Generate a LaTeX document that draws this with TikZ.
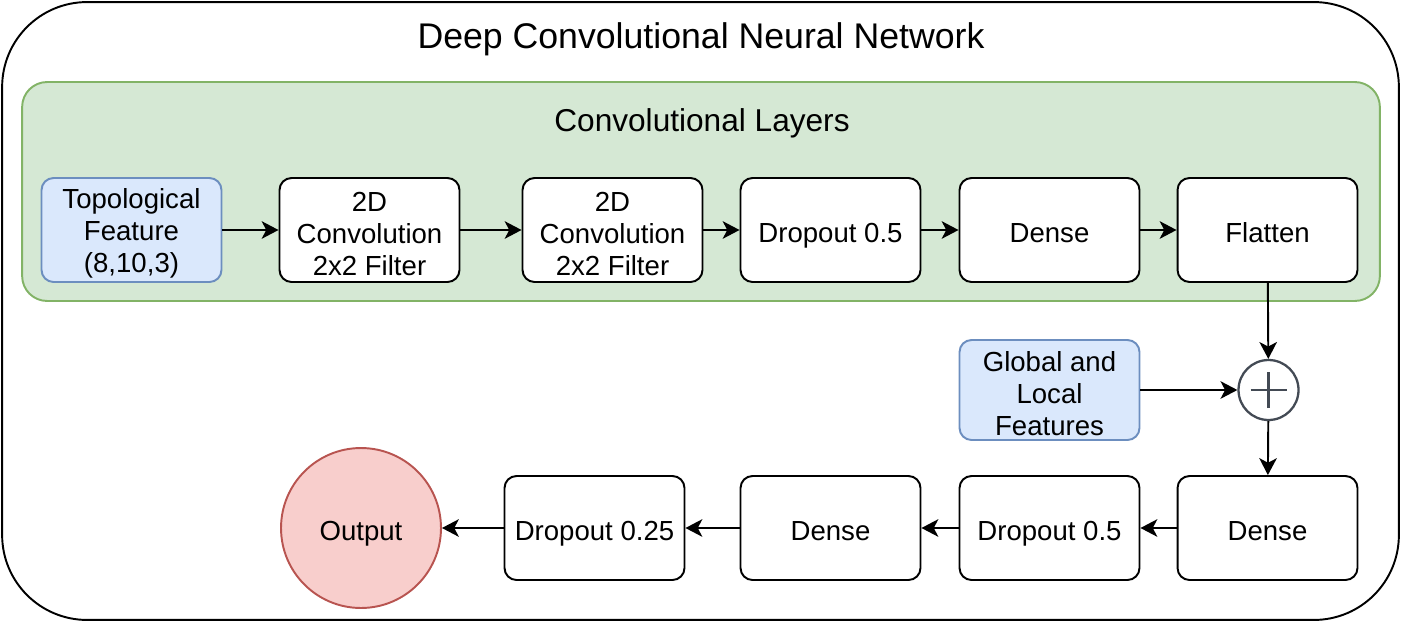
\documentclass[tikz,border=0pt]{standalone}
\usepackage{fontspec}
\setmainfont{Liberation Sans}
\usepackage{tikz}
\usepackage{xcolor}
\usetikzlibrary{positioning,shapes,arrows.meta}

\definecolor{convgreen}{HTML}{D5E8D4}
\definecolor{convgreenline}{HTML}{82B366}
\definecolor{featblue}{HTML}{DAE8FC}
\definecolor{featblueline}{HTML}{6C8EBF}
\definecolor{outred}{HTML}{F8CECC}
\definecolor{outredline}{HTML}{B85450}
\definecolor{plusgray}{HTML}{434A54}

% raises the first line of a stacked label a little
\newcommand{\firstline}{\rule{0pt}{15.5pt}}

\begin{document}
\begin{tikzpicture}[x=0.02cm,y=-0.02cm,
  layer/.style={draw,line width=1.1pt,rounded corners=0.24cm,fill=white,
    minimum width=3.6cm,minimum height=2.08cm,align=center,inner sep=0pt,
    font=\fontsize{15.7}{18.1}\selectfont},
  oneline/.style={text height=17pt,text depth=2.4pt},
  feature/.style={layer,fill=featblue,draw=featblueline},
  flow/.style={-{Stealth[length=9.6pt,width=10pt,inset=2.6pt]},line width=1.1pt}]
  \useasboundingbox (0,0) rectangle (1402,622);
  \node[draw,line width=1.1pt,rounded corners=1.7cm,minimum width=27.94cm,minimum height=12.36cm,inner sep=0pt] (dcnn) at (700.5,311) {};
  \node[font=\fontsize{20.3}{24}\selectfont] (title) at (701,39) {Deep Convolutional Neural Network};
  \node[draw=convgreenline,fill=convgreen,line width=1.1pt,rounded corners=0.5cm,minimum width=27.16cm,minimum height=4.38cm,inner sep=0pt] (convlayers) at (701,191.5) {};
  \node[font=\fontsize{18}{22}\selectfont] (convtitle) at (702,123) {Convolutional Layers};
  % convolutional row
  \node[feature] (topo) at (131.5,230) {\firstline Topological\\Feature\\(8,10,3)};
  \node[layer] (conv1) at (369.5,230) {\firstline 2D\\Convolution\\2x2 Filter};
  \node[layer] (conv2) at (612.5,230) {\firstline 2D\\Convolution\\2x2 Filter};
  \node[layer,oneline] (drop1) at (830.5,230) {Dropout 0.5};
  \node[layer,oneline] (dense1) at (1049.5,230) {Dense};
  \node[layer,oneline] (flat) at (1267.5,230) {Flatten};
  % merge
  \node[feature,minimum height=2cm] (glob) at (1049.5,390) {\firstline Global and\\Local\\Features};
  \node[draw=plusgray,circle,line width=1.3pt,minimum size=1.2cm,inner sep=0pt] (plus) at (1268.5,390) {};
  \draw[plusgray,line width=1.3pt] ([xshift=-0.36cm]plus.center) -- ([xshift=0.36cm]plus.center);
  \draw[plusgray,line width=1.3pt] ([yshift=-0.36cm]plus.center) -- ([yshift=0.36cm]plus.center);
  % dense row
  \node[layer,oneline] (dense2) at (1267.5,528) {Dense};
  \node[layer,oneline] (drop2) at (1049.5,528) {Dropout 0.5};
  \node[layer,oneline] (dense3) at (830.5,528) {Dense};
  \node[layer,oneline] (drop3) at (594.5,528) {Dropout 0.25};
  \node[draw=outredline,fill=outred,circle,line width=1.1pt,minimum size=3.2cm,inner sep=0pt,font=\fontsize{15.7}{18.1}\selectfont,oneline] (output) at (361,528) {Output};
  \draw[flow] (topo) -- (conv1);
  \draw[flow] (conv1) -- (conv2);
  \draw[flow] (conv2) -- (drop1);
  \draw[flow] (drop1) -- (dense1);
  \draw[flow] (dense1) -- (flat);
  \draw[flow] (flat) -- (plus);
  \draw[flow] (glob) -- (plus);
  \draw[flow] (plus) -- (dense2);
  \draw[flow] (dense2) -- (drop2);
  \draw[flow] (drop2) -- (dense3);
  \draw[flow] (dense3) -- (drop3);
  \draw[flow] (drop3) -- (output);
\end{tikzpicture}
\end{document}
